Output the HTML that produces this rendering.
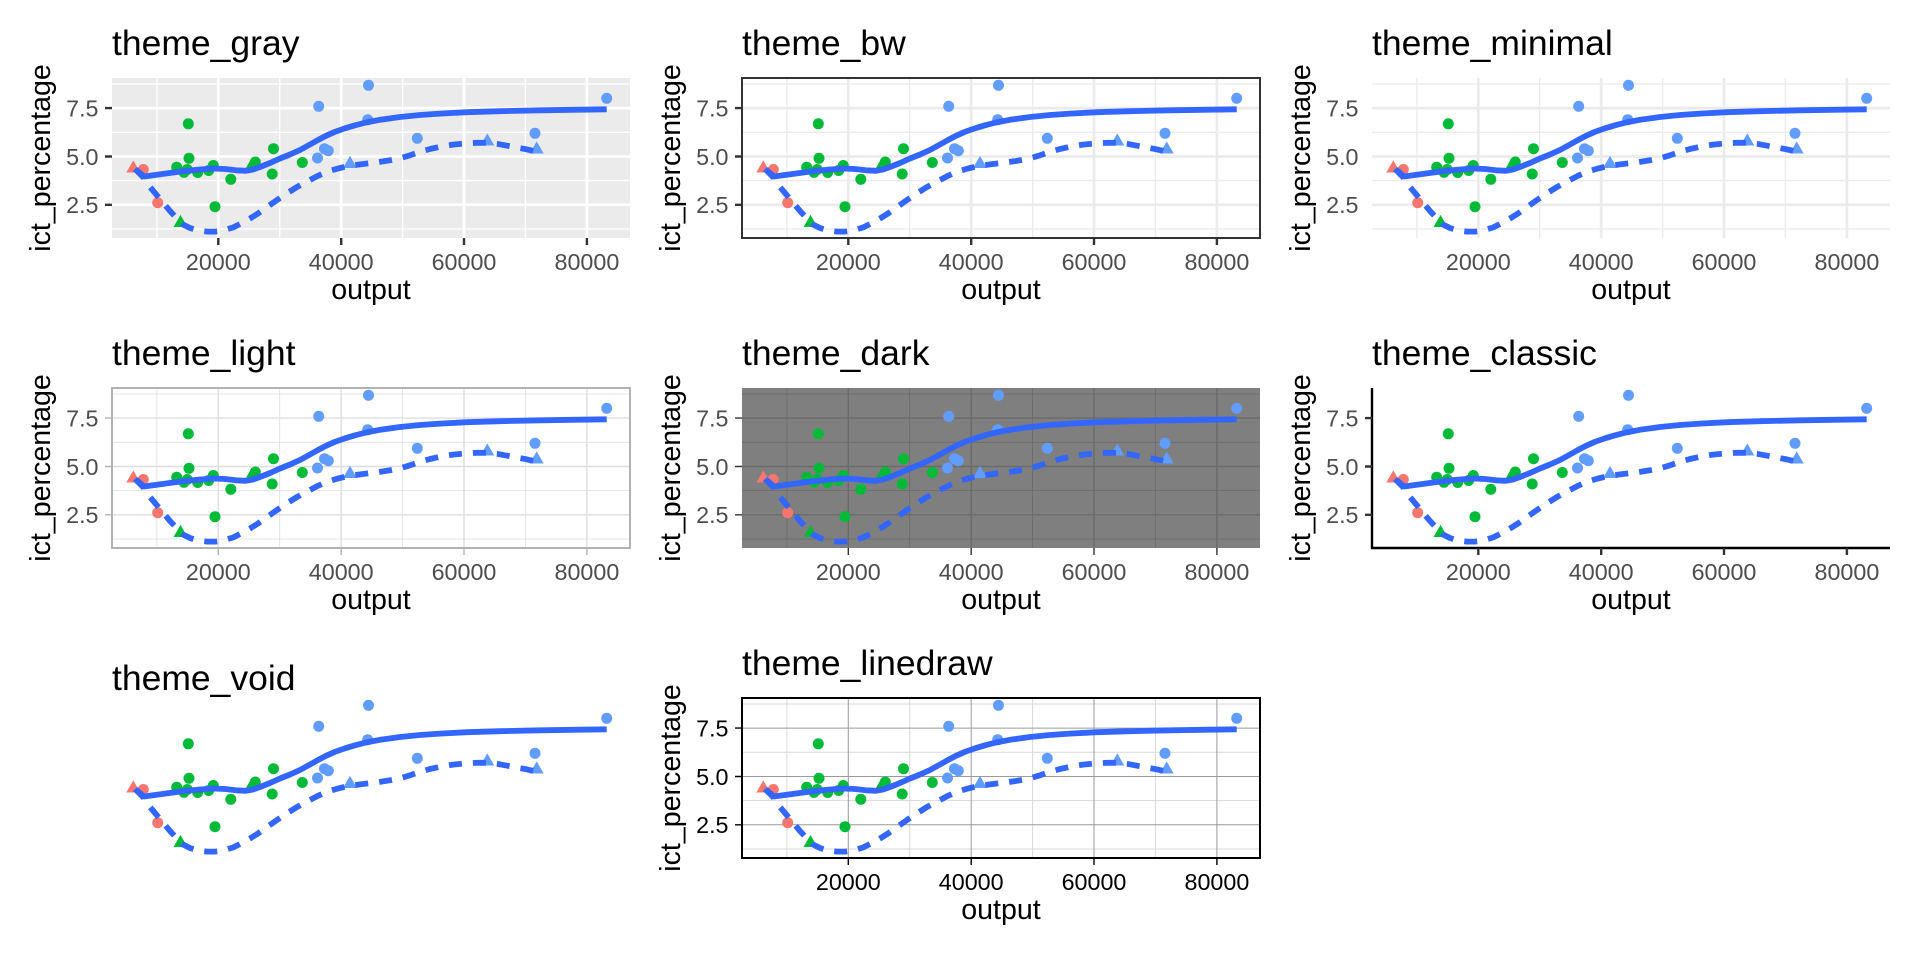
<!DOCTYPE html>
<html><head><meta charset="utf-8">
<style>
html,body{margin:0;padding:0;background:#fff;}
svg{display:block;}
text{font-family:"Liberation Sans",Arial,sans-serif;}
</style></head><body>
<svg width="1920" height="960" viewBox="0 0 1920 960" xmlns="http://www.w3.org/2000/svg" xmlns:xlink="http://www.w3.org/1999/xlink">
<rect width="1920" height="960" fill="#fff"/>
<defs>
<g id="data">
  <g fill="#F8766D">
    <polygon points="133.3,160.4 140.3,172.5 126.3,172.5"/>
    <circle cx="143.3" cy="169.5" r="5.5"/>
    <circle cx="157.7" cy="202.7" r="5.5"/>
  </g>
  <g fill="#00BA38">
    <polygon points="180.5,214.9 187.5,227 173.5,227"/>
    <circle cx="188.3" cy="123.8" r="5.5"/>
    <circle cx="189" cy="158.3" r="5.5"/>
    <circle cx="176.7" cy="167.2" r="5.5"/>
    <circle cx="184" cy="172.3" r="5.5"/>
    <circle cx="187.3" cy="169.5" r="5.5"/>
    <circle cx="197.7" cy="172.5" r="5.5"/>
    <circle cx="208.7" cy="170.5" r="5.5"/>
    <circle cx="213.3" cy="165.5" r="5.5"/>
    <circle cx="215" cy="206.7" r="5.5"/>
    <circle cx="230.8" cy="179.3" r="5.5"/>
    <polygon points="251.7,157.9 258.7,170 244.7,170"/>
    <circle cx="255.3" cy="162" r="5.5"/>
    <circle cx="273.5" cy="148.7" r="5.5"/>
    <circle cx="272.2" cy="174" r="5.5"/>
    <circle cx="302.3" cy="162.5" r="5.5"/>
  </g>
  <g fill="#619CFF">
    <circle cx="318.7" cy="106.3" r="5.5"/>
    <circle cx="368.5" cy="85.3" r="5.5"/>
    <circle cx="367.7" cy="119.7" r="5.5"/>
    <circle cx="317.5" cy="158" r="5.5"/>
    <circle cx="324.5" cy="148.7" r="5.5"/>
    <circle cx="328.3" cy="150.7" r="5.5"/>
    <polygon points="350,155.9 357,168 343,168"/>
    <circle cx="417.3" cy="138.3" r="5.5"/>
    <polygon points="487.3,133.4 494.3,145.5 480.3,145.5"/>
    <circle cx="535" cy="133.3" r="5.5"/>
    <polygon points="536.7,141.4 543.7,153.5 529.7,153.5"/>
    <circle cx="606.7" cy="98.3" r="5.5"/>
  </g>
  <polyline fill="none" stroke="#3366FF" stroke-width="5.8" stroke-linejoin="round" points="136,169.5 144,176.5 155,175 166,173.5 177,172 187,170.8 200,169.5 213,168.5 225,169 236,170.3 246,170.8 253,169.5 260,167 270,163 280,158.5 290,154.5 300,150 310,144.5 318,140 326,135.8 335,131.8 345,128.3 355,125.3 366,122.5 380,119.8 400,117 420,115 440,113.6 467,112.2 500,111.2 540,110.3 580,109.7 606.7,109.3"/>
  <polyline fill="none" stroke="#3366FF" stroke-width="5.8" stroke-linejoin="round" stroke-dasharray="13 11" points="135,169 143,177 150,187 160,199 170,211 177,218.5 183,224.5 190,228 197,230.3 207,231.6 215,231.6 222,230.8 233,227.5 242,223 250,218.5 258,213.5 267,207 277,200 287,193.3 297,187 308,181 317,176.3 327,171.7 338,168.5 350,165.7 363,164 377,162.3 390,160.3 400,158.3 410,155.3 420,151.8 430,149 440,146.8 453,144.6 467,143.3 477,142.8 487,142.8 497,143.8 505,145.3 515,147.2 525,149 534,151"/>
</g>
<path id="gmin" d="M156.9 78V238M279.7 78V238M402.6 78V238M525.4 78V238M112 84H630M112 132.3H630M112 180.6H630M112 229H630"/>
<path id="gmaj" d="M218.3 78V238M341.2 78V238M464 78V238M586.9 78V238M112 108.1H630M112 156.5H630M112 204.8H630"/>
<path id="ticks" d="M105 108.1H112M105 156.5H112M105 204.8H112M218.3 238V245M341.2 238V245M464 238V245M586.9 238V245"/>
</defs>

<!-- Panel 1: theme_gray -->
<g transform="translate(0,0)">
  <rect x="112" y="78" width="518" height="160" fill="#EBEBEB"/>
  <use xlink:href="#gmin" href="#gmin" stroke="#fff" stroke-width="1.35" fill="none"/>
  <use xlink:href="#gmaj" href="#gmaj" stroke="#fff" stroke-width="2.7" fill="none"/>
  <use xlink:href="#data" href="#data"/>
  <use xlink:href="#ticks" href="#ticks" stroke="#333" stroke-width="2.4" fill="none"/>
  <text x="112" y="55" font-size="35.5" fill="#000">theme_gray</text>
  <g font-size="23.3" fill="#4D4D4D" text-anchor="end"><text x="98.5" y="116.4">7.5</text><text x="98.5" y="164.8">5.0</text><text x="98.5" y="213.1">2.5</text></g>
  <g font-size="23.3" fill="#4D4D4D" text-anchor="middle"><text x="218.3" y="270">20000</text><text x="341.2" y="270">40000</text><text x="464" y="270">60000</text><text x="586.9" y="270">80000</text></g>
  <text x="371" y="299" font-size="28.6" text-anchor="middle" fill="#000">output</text>
  <text transform="translate(50,158) rotate(-90)" font-size="28.6" text-anchor="middle" fill="#000">ict_percentage</text>
</g>

<!-- Panel 2: theme_bw -->
<g transform="translate(630,0)">
  <rect x="112" y="78" width="518" height="160" fill="#fff"/>
  <use xlink:href="#gmin" href="#gmin" stroke="#EBEBEB" stroke-width="1.35" fill="none"/>
  <use xlink:href="#gmaj" href="#gmaj" stroke="#EBEBEB" stroke-width="2.7" fill="none"/>
  <use xlink:href="#data" href="#data"/>
  <rect x="112" y="78" width="518" height="160" fill="none" stroke="#333" stroke-width="2"/>
  <use xlink:href="#ticks" href="#ticks" stroke="#333" stroke-width="2.4" fill="none"/>
  <text x="112" y="55" font-size="35.5" fill="#000">theme_bw</text>
  <g font-size="23.3" fill="#4D4D4D" text-anchor="end"><text x="98.5" y="116.4">7.5</text><text x="98.5" y="164.8">5.0</text><text x="98.5" y="213.1">2.5</text></g>
  <g font-size="23.3" fill="#4D4D4D" text-anchor="middle"><text x="218.3" y="270">20000</text><text x="341.2" y="270">40000</text><text x="464" y="270">60000</text><text x="586.9" y="270">80000</text></g>
  <text x="371" y="299" font-size="28.6" text-anchor="middle" fill="#000">output</text>
  <text transform="translate(50,158) rotate(-90)" font-size="28.6" text-anchor="middle" fill="#000">ict_percentage</text>
</g>

<!-- Panel 3: theme_minimal -->
<g transform="translate(1260,0)">
  <use xlink:href="#gmin" href="#gmin" stroke="#EBEBEB" stroke-width="1.35" fill="none"/>
  <use xlink:href="#gmaj" href="#gmaj" stroke="#EBEBEB" stroke-width="2.7" fill="none"/>
  <use xlink:href="#data" href="#data"/>
  <text x="112" y="55" font-size="35.5" fill="#000">theme_minimal</text>
  <g font-size="23.3" fill="#4D4D4D" text-anchor="end"><text x="98.5" y="116.4">7.5</text><text x="98.5" y="164.8">5.0</text><text x="98.5" y="213.1">2.5</text></g>
  <g font-size="23.3" fill="#4D4D4D" text-anchor="middle"><text x="218.3" y="270">20000</text><text x="341.2" y="270">40000</text><text x="464" y="270">60000</text><text x="586.9" y="270">80000</text></g>
  <text x="371" y="299" font-size="28.6" text-anchor="middle" fill="#000">output</text>
  <text transform="translate(50,158) rotate(-90)" font-size="28.6" text-anchor="middle" fill="#000">ict_percentage</text>
</g>

<!-- Panel 4: theme_light -->
<g transform="translate(0,310)">
  <use xlink:href="#gmin" href="#gmin" stroke="#DEDEDE" stroke-width="0.8" fill="none"/>
  <use xlink:href="#gmaj" href="#gmaj" stroke="#DEDEDE" stroke-width="1.4" fill="none"/>
  <use xlink:href="#data" href="#data"/>
  <rect x="112" y="78" width="518" height="160" fill="none" stroke="#B3B3B3" stroke-width="2"/>
  <use xlink:href="#ticks" href="#ticks" stroke="#B3B3B3" stroke-width="1.4" fill="none"/>
  <text x="112" y="55" font-size="35.5" fill="#000">theme_light</text>
  <g font-size="23.3" fill="#4D4D4D" text-anchor="end"><text x="98.5" y="116.4">7.5</text><text x="98.5" y="164.8">5.0</text><text x="98.5" y="213.1">2.5</text></g>
  <g font-size="23.3" fill="#4D4D4D" text-anchor="middle"><text x="218.3" y="270">20000</text><text x="341.2" y="270">40000</text><text x="464" y="270">60000</text><text x="586.9" y="270">80000</text></g>
  <text x="371" y="299" font-size="28.6" text-anchor="middle" fill="#000">output</text>
  <text transform="translate(50,158) rotate(-90)" font-size="28.6" text-anchor="middle" fill="#000">ict_percentage</text>
</g>

<!-- Panel 5: theme_dark -->
<g transform="translate(630,310)">
  <rect x="112" y="78" width="518" height="160" fill="#7F7F7F"/>
  <use xlink:href="#gmin" href="#gmin" stroke="#6B6B6B" stroke-width="0.8" fill="none"/>
  <use xlink:href="#gmaj" href="#gmaj" stroke="#6B6B6B" stroke-width="1.4" fill="none"/>
  <use xlink:href="#data" href="#data"/>
  <use xlink:href="#ticks" href="#ticks" stroke="#333" stroke-width="1.4" fill="none"/>
  <text x="112" y="55" font-size="35.5" fill="#000">theme_dark</text>
  <g font-size="23.3" fill="#4D4D4D" text-anchor="end"><text x="98.5" y="116.4">7.5</text><text x="98.5" y="164.8">5.0</text><text x="98.5" y="213.1">2.5</text></g>
  <g font-size="23.3" fill="#4D4D4D" text-anchor="middle"><text x="218.3" y="270">20000</text><text x="341.2" y="270">40000</text><text x="464" y="270">60000</text><text x="586.9" y="270">80000</text></g>
  <text x="371" y="299" font-size="28.6" text-anchor="middle" fill="#000">output</text>
  <text transform="translate(50,158) rotate(-90)" font-size="28.6" text-anchor="middle" fill="#000">ict_percentage</text>
</g>

<!-- Panel 6: theme_classic -->
<g transform="translate(1260,310)">
  <use xlink:href="#data" href="#data"/>
  <path d="M112 78V239.2M110.8 238H630" stroke="#000" stroke-width="2.4" fill="none"/>
  <use xlink:href="#ticks" href="#ticks" stroke="#333" stroke-width="2.4" fill="none"/>
  <text x="112" y="55" font-size="35.5" fill="#000">theme_classic</text>
  <g font-size="23.3" fill="#4D4D4D" text-anchor="end"><text x="98.5" y="116.4">7.5</text><text x="98.5" y="164.8">5.0</text><text x="98.5" y="213.1">2.5</text></g>
  <g font-size="23.3" fill="#4D4D4D" text-anchor="middle"><text x="218.3" y="270">20000</text><text x="341.2" y="270">40000</text><text x="464" y="270">60000</text><text x="586.9" y="270">80000</text></g>
  <text x="371" y="299" font-size="28.6" text-anchor="middle" fill="#000">output</text>
  <text transform="translate(50,158) rotate(-90)" font-size="28.6" text-anchor="middle" fill="#000">ict_percentage</text>
</g>

<!-- Panel 7: theme_void -->
<g transform="translate(0,620)">
  <use xlink:href="#data" href="#data"/>
  <text x="112" y="70" font-size="35.5" fill="#000">theme_void</text>
</g>

<!-- Panel 8: theme_linedraw -->
<g transform="translate(630,620)">
  <rect x="112" y="78" width="518" height="160" fill="#fff"/>
  <use xlink:href="#gmin" href="#gmin" stroke="#D9D9D9" stroke-width="1" fill="none"/>
  <use xlink:href="#gmaj" href="#gmaj" stroke="#9A9A9A" stroke-width="1" fill="none"/>
  <use xlink:href="#data" href="#data"/>
  <rect x="112" y="78" width="518" height="160" fill="none" stroke="#000" stroke-width="2"/>
  <use xlink:href="#ticks" href="#ticks" stroke="#000" stroke-width="1.4" fill="none"/>
  <text x="112" y="55" font-size="35.5" fill="#000">theme_linedraw</text>
  <g font-size="23.3" fill="#000" text-anchor="end"><text x="98.5" y="116.4">7.5</text><text x="98.5" y="164.8">5.0</text><text x="98.5" y="213.1">2.5</text></g>
  <g font-size="23.3" fill="#000" text-anchor="middle"><text x="218.3" y="270">20000</text><text x="341.2" y="270">40000</text><text x="464" y="270">60000</text><text x="586.9" y="270">80000</text></g>
  <text x="371" y="299" font-size="28.6" text-anchor="middle" fill="#000">output</text>
  <text transform="translate(50,158) rotate(-90)" font-size="28.6" text-anchor="middle" fill="#000">ict_percentage</text>
</g>
</svg>
</body></html>
